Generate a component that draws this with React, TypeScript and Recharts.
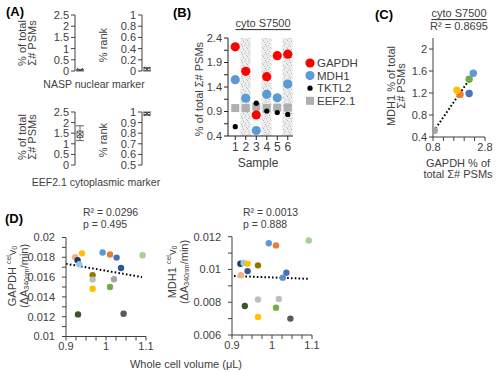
import React from 'react';
import {
  ComposedChart,
  ScatterChart,
  Scatter,
  Bar,
  XAxis,
  YAxis,
  ErrorBar,
  Cell,
  ReferenceLine,
} from 'recharts';

// ---------- Panel A data ----------
const markerLabels = ['NASP nuclear marker', 'EEF2.1 cytoplasmic marker'];
const totalLo = [0.0, 1.15];
const totalQ1 = [0.0, 1.3];
const totalMid = [0.02, 1.45];
const totalQ3 = [0.05, 1.6];
const totalHi = [0.07, 1.85];
const rankLo = [0.0, 0.97];
const rankQ1 = [0.0, 0.975];
const rankMid = [0.03, 0.985];
const rankQ3 = [0.05, 0.995];
const rankHi = [0.06, 1.0];
const totalTicks = [0, 0.5, 1, 1.5, 2, 2.5];
const rankTicksTop = [0, 0.2, 0.4, 0.6, 0.8, 1];
const rankTicksBottom = [0.5, 0.6, 0.7, 0.8, 0.9, 1];

// ---------- Panel B data ----------
const samples = ['1', '2', '3', '4', '5', '6'];
const gapdh = [2.22, 1.72, 0.83, 1.61, 2.04, 2.07];
const mdh1 = [1.55, 1.17, 0.51, 1.25, 1.18, 1.46];
const tktl2 = [0.59, null, 1.07, 0.91, 0.88, 0.84];
const eef21 = [0.97, 0.97, 1.0, 0.97, 0.98, 0.98];
const shadedSamples = ['2', '4', '6'];
const bTicks = [0.4, 0.65, 0.9, 1.15, 1.4, 1.65, 1.9, 2.15, 2.4];
const bTitle = 'cyto S7500';

// ---------- Panel C data ----------
const cGapdh = [1.84, 1.72, 2.19, 2.19, 2.35, 0.85];
const cMdh1 = [1.175, 1.25, 1.19, 1.45, 1.56, 0.52];
const cColors = ['#ED7D31', '#FFC000', '#4472C4', '#70AD47', '#5B9BD5', '#A5A5A5'];
const cTrendX = [0.82, 2.38];
const cTrendY = [0.5, 1.57];
const cR2 = 'R² = 0.8695';
const cXTicks = [0.8, 1.2, 1.6, 2.0, 2.4, 2.8];
const cYTicks = [0.4, 0.8, 1.2, 1.6, 2];

// ---------- Panel D data ----------
const dVolL = [0.923, 0.929, 0.933, 0.94, 0.9665, 0.9665, 0.9665, 0.9915, 1.01, 1.0265, 1.0375, 1.02, 1.01, 1.0915, 0.93, 1.044];
const dGapdh = [0.018, 0.0177, 0.0173, 0.0184, 0.0162, 0.01575, 0.01483, 0.01848, 0.01828, 0.01797, 0.01692, 0.01578, 0.015, 0.0182, 0.01223, 0.0123];
const dColorsL = ['#F4B183', '#203864', '#9DC3E6', '#FFC000', '#997300', '#BFBFBF', '#FFC000', '#5B9BD5', '#ED7D31', '#4472C4', '#2F5597', '#A5A5A5', '#70AD47', '#A9D18E', '#385723', '#595959'];
const dVolR = [0.921, 0.929, 0.939, 0.939, 0.9225, 0.965, 0.992, 1.01, 1.092, 1.036, 1.027, 0.965, 1.017, 0.932, 1.01, 0.965, 1.046];
const dMdh1 = [0.01035, 0.0104, 0.01035, 0.0099, 0.00965, 0.01025, 0.0116, 0.01147, 0.01177, 0.0098, 0.0095, 0.00817, 0.0082, 0.00777, 0.00767, 0.0071, 0.007];
const dColorsR = ['#203864', '#9DC3E6', '#FFC000', '#2F5597', '#F4B183', '#997300', '#5B9BD5', '#ED7D31', '#A9D18E', '#4472C4', '#5B8FD9', '#BFBFBF', '#BFBFBF', '#385723', '#70AD47', '#FFC000', '#595959'];
const dTrendLX = [0.9, 1.09];
const dTrendLY = [0.01735, 0.016];
const dTrendRX = [0.905, 1.09];
const dTrendRY = [0.0096, 0.00943];
const dStatsL = ['R² = 0.0296', 'p = 0.495'];
const dStatsR = ['R² = 0.0013', 'p = 0.888'];
const dXTicks = [0.9, 0.925, 0.95, 0.975, 1, 1.025, 1.05, 1.075, 1.1];
const dLTicks = [0.01, 0.011, 0.012, 0.013, 0.014, 0.015, 0.016, 0.017, 0.018, 0.019, 0.02];
const dRTicks = [0.006, 0.007, 0.008, 0.009, 0.01, 0.011, 0.012];

// ---------- styles ----------
const FONT = '"Liberation Sans", Arial, Helvetica, sans-serif';
const TXT = '#404040';
const AX = '#404040';
const tickStyle = { fontSize: 11, fill: TXT };

const XMark = (p: any) => {
  const { cx, cy } = p;
  if (cx == null || cy == null) return <g />;
  return (
    <g stroke="#404040" strokeWidth={0.9}>
      <line x1={cx - 3} y1={cy - 2.5} x2={cx + 3} y2={cy + 2.5} />
      <line x1={cx - 3} y1={cy + 2.5} x2={cx + 3} y2={cy - 2.5} />
    </g>
  );
};

function MiniBox(props: any) {
  const { left, top, width, height, mTop, mBottom, yWidth, domain, ticks, idx, kind } = props;
  const lo = kind === 'total' ? totalLo[idx] : rankLo[idx];
  const q1 = kind === 'total' ? totalQ1[idx] : rankQ1[idx];
  const mid = kind === 'total' ? totalMid[idx] : rankMid[idx];
  const q3 = kind === 'total' ? totalQ3[idx] : rankQ3[idx];
  const hi = kind === 'total' ? totalHi[idx] : rankHi[idx];
  const data = [{ name: markerLabels[idx], box: [q1, q3], mid, err: [mid - lo, hi - mid] }];
  return (
    <div style={{ position: 'absolute', left, top }}>
      <ComposedChart width={width} height={height} data={data} margin={{ top: mTop, right: 0, bottom: mBottom, left: 0 }}>
        <XAxis dataKey="name" type="category" hide />
        <YAxis
          type="number"
          domain={domain}
          ticks={ticks}
          interval={0}
          width={yWidth}
          tick={tickStyle}
          tickSize={4}
          tickLine={{ stroke: AX }}
          axisLine={{ stroke: AX }}
          allowDataOverflow
        />
        <Bar dataKey="box" barSize={6} fill="#fff" stroke="#404040" strokeWidth={0.8} isAnimationActive={false} />
        <Scatter dataKey="mid" shape={XMark} isAnimationActive={false}>
          <ErrorBar dataKey="err" direction="y" width={4} stroke="#404040" strokeWidth={0.8} />
        </Scatter>
      </ComposedChart>
    </div>
  );
}

const bSeries = [
  { key: 'GAPDH', color: '#FF0000', kind: 'circle', r: 4.6 },
  { key: 'MDH1', color: '#5B9BD5', kind: 'circle', r: 4.6 },
  { key: 'TKTL2', color: '#000000', kind: 'circle', r: 2.6 },
  { key: 'EEF2.1', color: '#AFAFAF', kind: 'square', r: 4 },
];

const bData = samples.map((s, i) => ({
  sample: s,
  GAPDH: gapdh[i],
  MDH1: mdh1[i],
  TKTL2: tktl2[i],
  'EEF2.1': eef21[i],
  shade: shadedSamples.includes(s) ? [0.4, 2.4] : null,
}));

const makeShape = (key: string, color: string, kind: string, r: number) => (p: any) => {
  const { cx, cy, payload } = p;
  if (payload == null || payload[key] == null || cx == null || cy == null) return <g />;
  if (kind === 'square') return <rect x={cx - r} y={cy - r} width={2 * r} height={2 * r} fill={color} />;
  return <circle cx={cx} cy={cy} r={r} fill={color} />;
};

const dotShape = (r: number) => (p: any) => {
  const { cx, cy, fill } = p;
  if (cx == null || cy == null) return <g />;
  return <circle cx={cx} cy={cy} r={r} fill={fill} />;
};

const fmtB = (v: number) => (Math.abs(((v - 0.4) / 0.5) - Math.round((v - 0.4) / 0.5)) < 1e-6 ? String(v) : '');
const fmtC = (v: number) => (v === 0.8 || v === 2.8 ? String(v) : '');
const fmtDX = (v: number) => (Math.abs(v * 10 - Math.round(v * 10)) < 1e-6 ? String(v) : '');
const fmtDY = (v: number) => (Math.round(v * 1000) % 2 === 0 ? String(v) : '');

const cData = cGapdh.map((x, i) => ({ x, y: cMdh1[i] }));
const dlData = dVolL.map((x, i) => ({ x, y: dGapdh[i] }));
const drData = dVolR.map((x, i) => ({ x, y: dMdh1[i] }));

const VText = ({ x, y, children, size = 11 }: any) => (
  <text
    x={x}
    y={y}
    transform={`rotate(-90 ${x} ${y})`}
    textAnchor="middle"
    dominantBaseline="central"
    fontSize={size}
    fill={TXT}
  >
    {children}
  </text>
);

const HText = ({ x, y, children, size = 11, anchor = 'middle', weight = 'normal', underline = false, fill = TXT }: any) => (
  <text
    x={x}
    y={y}
    textAnchor={anchor}
    dominantBaseline="central"
    fontSize={size}
    fontWeight={weight}
    fill={fill}
    textDecoration={underline ? 'underline' : undefined}
  >
    {children}
  </text>
);

const stippleDots = [
  [1, 1, '#a8a8a8'],
  [5, 0, '#b6b6b6'],
  [3, 3, '#bdbdbd'],
  [7, 4, '#aaaaaa'],
  [0, 6, '#b8b8b8'],
  [4, 7, '#c4c4c4'],
  [6, 2, '#cacaca'],
  [2, 5, '#c0c0c0'],
  [6, 6, '#d0d0d0'],
];

export default function App() {
  return (
    <div
      style={{
        position: 'absolute',
        left: 0,
        top: 0,
        width: 500,
        height: 372,
        background: '#fff',
        fontFamily: FONT,
        overflow: 'hidden',
      }}
    >
      <svg width={0} height={0} style={{ position: 'absolute' }}>
        <defs>
          <pattern id="stipple" width={8} height={8} patternUnits="userSpaceOnUse">
            <rect width={8} height={8} fill="#ededed" />
            {stippleDots.map(([x, y, c], i) => (
              <rect key={i} x={x as number} y={y as number} width={1} height={1} fill={c as string} />
            ))}
          </pattern>
        </defs>
      </svg>

      {/* Panel A */}
      <MiniBox left={0} top={0} width={85} height={80} mTop={15} mBottom={9} yWidth={75} domain={[0, 2.5]} ticks={totalTicks} idx={0} kind="total" />
      <MiniBox left={100} top={0} width={52} height={80} mTop={15} mBottom={9} yWidth={42} domain={[0, 1]} ticks={rankTicksTop} idx={0} kind="rank" />
      <MiniBox left={0} top={100} width={85} height={70} mTop={12} mBottom={5} yWidth={75} domain={[0, 2.5]} ticks={totalTicks} idx={1} kind="total" />
      <MiniBox left={100} top={100} width={52} height={70} mTop={12} mBottom={5} yWidth={42} domain={[0.5, 1]} ticks={rankTicksBottom} idx={1} kind="rank" />

      {/* Panel B */}
      <div style={{ position: 'absolute', left: 170, top: 0 }}>
        <ComposedChart width={200} height={170} data={bData} margin={{ top: 38, right: 77, bottom: 14, left: 0 }}>
          <XAxis
            dataKey="sample"
            type="category"
            height={20}
            padding={{ left: 2, right: 0 }}
            tick={{ fontSize: 12, fill: TXT }}
            tickSize={4}
            tickLine={{ stroke: '#222' }}
            axisLine={{ stroke: '#222' }}
            interval={0}
          />
          <YAxis
            type="number"
            domain={[0.4, 2.4]}
            ticks={bTicks}
            interval={0}
            tickFormatter={fmtB}
            width={58}
            tick={tickStyle}
            tickSize={4}
            tickLine={{ stroke: '#222' }}
            axisLine={{ stroke: '#222' }}
            allowDataOverflow
          />
          <Bar dataKey="shade" barSize={10} fill="url(#stipple)" isAnimationActive={false} />
          {[...bSeries].reverse().map((s) => (
            <Scatter
              key={s.key}
              dataKey={s.key}
              name={s.key}
              fill={s.color}
              shape={makeShape(s.key, s.color, s.kind, s.r)}
              isAnimationActive={false}
            />
          ))}
        </ComposedChart>
      </div>

      {/* Panel C */}
      <div style={{ position: 'absolute', left: 380, top: 0 }}>
        <ScatterChart width={120} height={180} margin={{ top: 38, right: 15, bottom: 23, left: 0 }}>
          <XAxis
            type="number"
            dataKey="x"
            domain={[0.8, 2.8]}
            ticks={cXTicks}
            interval={0}
            tickFormatter={fmtC}
            height={20}
            tick={tickStyle}
            tickSize={4}
            tickLine={{ stroke: AX }}
            axisLine={{ stroke: AX }}
            allowDataOverflow
          />
          <YAxis
            type="number"
            dataKey="y"
            domain={[0.4, 2.2]}
            ticks={cYTicks}
            interval={0}
            width={53}
            tick={tickStyle}
            tickSize={4}
            tickLine={{ stroke: AX }}
            axisLine={{ stroke: AX }}
            allowDataOverflow
          />
          <Scatter data={cData} shape={dotShape(3.7)} isAnimationActive={false}>
            {cData.map((_, i) => (
              <Cell key={i} fill={cColors[i]} />
            ))}
          </Scatter>
          <ReferenceLine
            segment={[
              { x: cTrendX[0], y: cTrendY[0] },
              { x: cTrendX[1], y: cTrendY[1] },
            ]}
            stroke="#000"
            strokeWidth={2}
            strokeDasharray="1.6 2.2"
          />
        </ScatterChart>
      </div>

      {/* Panel D left */}
      <div style={{ position: 'absolute', left: 0, top: 200 }}>
        <ScatterChart width={155} height={160} margin={{ top: 37.5, right: 9, bottom: 3.5, left: 0 }}>
          <XAxis
            type="number"
            dataKey="x"
            domain={[0.9, 1.1]}
            ticks={dXTicks}
            interval={0}
            tickFormatter={fmtDX}
            height={20}
            tick={tickStyle}
            tickSize={4}
            tickLine={{ stroke: AX }}
            axisLine={{ stroke: AX }}
            allowDataOverflow
          />
          <YAxis
            type="number"
            dataKey="y"
            domain={[0.01, 0.02]}
            ticks={dLTicks}
            interval={0}
            tickFormatter={fmtDY}
            width={66}
            tick={tickStyle}
            tickSize={4}
            tickMargin={7}
            tickLine={{ stroke: AX }}
            axisLine={{ stroke: AX }}
            allowDataOverflow
          />
          <Scatter data={dlData} shape={dotShape(3.2)} isAnimationActive={false}>
            {dlData.map((_, i) => (
              <Cell key={i} fill={dColorsL[i]} />
            ))}
          </Scatter>
          <ReferenceLine
            segment={[
              { x: dTrendLX[0], y: dTrendLY[0] },
              { x: dTrendLX[1], y: dTrendLY[1] },
            ]}
            stroke="#000"
            strokeWidth={2}
            strokeDasharray="1.6 2.2"
          />
        </ScatterChart>
      </div>

      {/* Panel D right */}
      <div style={{ position: 'absolute', left: 160, top: 200 }}>
        <ScatterChart width={165} height={160} margin={{ top: 36.7, right: 13, bottom: 5, left: 0 }}>
          <XAxis
            type="number"
            dataKey="x"
            domain={[0.9, 1.1]}
            ticks={dXTicks}
            interval={0}
            tickFormatter={fmtDX}
            height={20}
            tick={tickStyle}
            tickSize={4}
            tickLine={{ stroke: AX }}
            axisLine={{ stroke: AX }}
            allowDataOverflow
          />
          <YAxis
            type="number"
            dataKey="y"
            domain={[0.006, 0.012]}
            ticks={dRTicks}
            interval={0}
            tickFormatter={fmtDY}
            width={72}
            tick={tickStyle}
            tickSize={4}
            tickMargin={7}
            tickLine={{ stroke: AX }}
            axisLine={{ stroke: AX }}
            allowDataOverflow
          />
          <Scatter data={drData} shape={dotShape(3.2)} isAnimationActive={false}>
            {drData.map((_, i) => (
              <Cell key={i} fill={dColorsR[i]} />
            ))}
          </Scatter>
          <ReferenceLine
            segment={[
              { x: dTrendRX[0], y: dTrendRY[0] },
              { x: dTrendRX[1], y: dTrendRY[1] },
            ]}
            stroke="#000"
            strokeWidth={2}
            strokeDasharray="1.6 2.2"
          />
        </ScatterChart>
      </div>

      {/* Text overlay */}
      <svg
        width={500}
        height={372}
        style={{ position: 'absolute', left: 0, top: 0, pointerEvents: 'none', fontFamily: FONT }}
      >
        {/* A */}
        <HText x={15} y={11} size={13} weight="bold" fill="#000">(A)</HText>
        <VText x={22} y={43}>% of total</VText>
        <VText x={32} y={43}>Σ# PSMs</VText>
        <VText x={102.5} y={45}>% rank</VText>
        <HText x={94} y={84} size={10.5}>{markerLabels[0]}</HText>
        <VText x={22} y={137}>% of total</VText>
        <VText x={32} y={137}>Σ# PSMs</VText>
        <VText x={102.5} y={140}>% rank</VText>
        <HText x={96} y={182} size={10.5}>{markerLabels[1]}</HText>

        {/* B */}
        <HText x={182} y={12} size={13} weight="bold" fill="#000">(B)</HText>
        <HText x={263} y={23} size={11} underline>{bTitle}</HText>
        <VText x={199} y={89}>% of total Σ# PSMs</VText>
        <HText x={258} y={163} size={12}>Sample</HText>
        {bSeries.map((s, i) => {
          const y = 63 + i * 12.6;
          return (
            <g key={s.key}>
              {s.kind === 'square' ? (
                <rect x={310 - s.r} y={y - s.r} width={2 * s.r} height={2 * s.r} fill={s.color} />
              ) : (
                <circle cx={310} cy={y} r={s.r} fill={s.color} />
              )}
              <HText x={317} y={y} size={11.5} anchor="start">{s.key}</HText>
            </g>
          );
        })}

        {/* C */}
        <HText x={384} y={14} size={13} weight="bold" fill="#000">(C)</HText>
        <HText x={459} y={13} size={11} underline>{bTitle}</HText>
        <HText x={459} y={26} size={11}>{cR2}</HText>
        <VText x={391} y={86}>MDH1 % of total</VText>
        <VText x={401} y={86}>Σ# PSMs</VText>
        <HText x={458} y={163} size={11}>GAPDH % of</HText>
        <HText x={458} y={174} size={11}>total Σ# PSMs</HText>

        {/* D */}
        <HText x={14} y={218} size={13} weight="bold" fill="#000">(D)</HText>
        <HText x={83} y={211.5} size={10.5} anchor="start">{dStatsL[0]}</HText>
        <HText x={83} y={223.5} size={10.5} anchor="start">{dStatsL[1]}</HText>
        <HText x={243} y={211.5} size={10.5} anchor="start">{dStatsR[0]}</HText>
        <HText x={243} y={223.5} size={10.5} anchor="start">{dStatsR[1]}</HText>
        <VText x={12} y={276}>
          GAPDH <tspan fontSize={7} dy={-4}>cel</tspan>
          <tspan dy={4}>v</tspan>
          <tspan fontSize={7} dy={2}>0</tspan>
        </VText>
        <VText x={24} y={276}>
          (ΔA<tspan fontSize={7} dy={2}>340nm</tspan>
          <tspan dy={-2}>/min)</tspan>
        </VText>
        <VText x={172} y={272}>
          MDH1 <tspan fontSize={7} dy={-4}>cel</tspan>
          <tspan dy={4}>v</tspan>
          <tspan fontSize={7} dy={2}>0</tspan>
        </VText>
        <VText x={184} y={272}>
          (ΔA<tspan fontSize={7} dy={2}>340nm</tspan>
          <tspan dy={-2}>/min)</tspan>
        </VText>
        <HText x={186} y={364} size={11}>Whole cell volume (μL)</HText>
      </svg>
    </div>
  );
}
